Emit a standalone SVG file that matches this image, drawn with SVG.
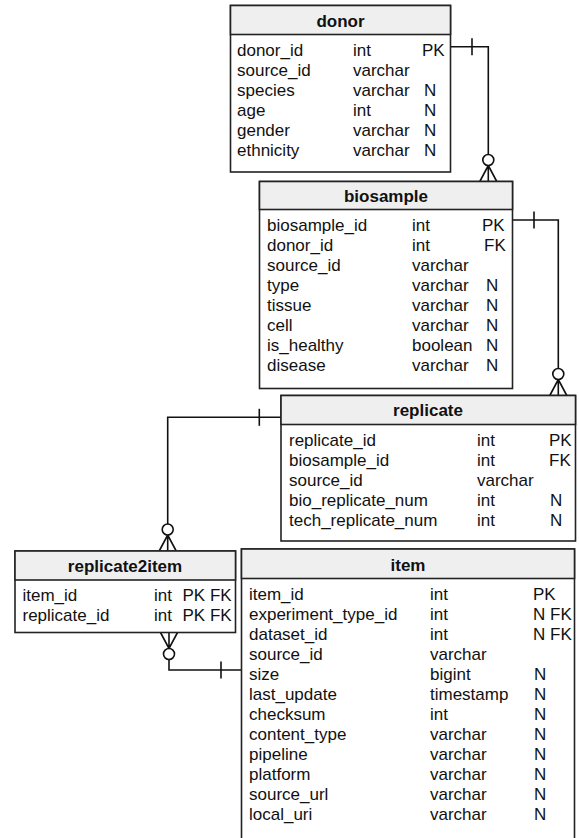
<svg xmlns="http://www.w3.org/2000/svg" xmlns:xlink="http://www.w3.org/1999/xlink" width="579" height="838" viewBox="0 0 579 838">
  <style>
    .box { fill: #ffffff; stroke: #222222; stroke-width: 1.6; }
    .hdr { fill: #efefef; stroke: #222222; stroke-width: 1.6; }
    .t { font-family: "Liberation Sans", Arial, Helvetica, sans-serif; font-size: 17px; fill: #111111; }
    .h { font-weight: bold; text-anchor: middle; }
    .ln { fill: none; stroke: #111111; stroke-width: 1.6; }
    .dot { fill: #ffffff; stroke: #111111; stroke-width: 1.6; }
  </style>
  <defs>
    <!-- zero-or-many end: origin sits on the entity edge, foot points up (away from the entity) -->
    <g id="many">
      <path class="ln" d="M -8.5 0 L 0 -16 L 8.5 0 M 0 0 L 0 -16"/>
      <circle class="dot" cx="0" cy="-21.5" r="5.5"/>
    </g>
    <!-- exactly-one bar -->
    <line id="one" class="ln" x1="0" y1="-8.5" x2="0" y2="8.5"/>
  </defs>

  <g id="connectors">
    <!-- donor.donor_id -> biosample.donor_id -->
    <path class="ln" d="M 450.7 46.7 H 488.3 V 160"/>
    <use xlink:href="#one" href="#one" transform="translate(472,46.7)"/>
    <use xlink:href="#many" href="#many" transform="translate(488.3,181.5)"/>

    <!-- biosample.biosample_id -> replicate.biosample_id -->
    <path class="ln" d="M 512.5 220 H 558.3 V 374"/>
    <use xlink:href="#one" href="#one" transform="translate(534,220)"/>
    <use xlink:href="#many" href="#many" transform="translate(558.3,395.5)"/>

    <!-- replicate.replicate_id -> replicate2item.replicate_id -->
    <path class="ln" d="M 281 417.3 H 167.7 V 530"/>
    <use xlink:href="#one" href="#one" transform="translate(259.3,417.3)"/>
    <use xlink:href="#many" href="#many" transform="translate(167.7,551)"/>

    <!-- item.item_id -> replicate2item.item_id -->
    <path class="ln" d="M 241.5 670 H 169 V 654"/>
    <use xlink:href="#one" href="#one" transform="translate(221,670)"/>
    <use xlink:href="#many" href="#many" transform="translate(169,632.5) rotate(180)"/>
  </g>

  <g id="donor">
    <rect class="box" x="230.5" y="5.5" width="220" height="166.5"/>
    <rect class="hdr" x="230.5" y="5.5" width="220" height="29"/>
    <text class="t h" x="340.5" y="27">donor</text>
    <g class="t">
      <text x="237" y="56">donor_id</text><text x="353" y="56">int</text><text x="422" y="56">PK</text>
      <text x="237" y="76">source_id</text><text x="353" y="76">varchar</text>
      <text x="237" y="96">species</text><text x="353" y="96">varchar</text><text x="424" y="96">N</text>
      <text x="237" y="116">age</text><text x="353" y="116">int</text><text x="424" y="116">N</text>
      <text x="237" y="136">gender</text><text x="353" y="136">varchar</text><text x="424" y="136">N</text>
      <text x="237" y="156">ethnicity</text><text x="353" y="156">varchar</text><text x="424" y="156">N</text>
    </g>
  </g>

  <g id="biosample">
    <rect class="box" x="259.5" y="181.5" width="253" height="207"/>
    <rect class="hdr" x="259.5" y="181.5" width="253" height="28"/>
    <text class="t h" x="386" y="202">biosample</text>
    <g class="t">
      <text x="267" y="231">biosample_id</text><text x="412" y="231">int</text><text x="482" y="231">PK</text>
      <text x="267" y="251">donor_id</text><text x="412" y="251">int</text><text x="484" y="251">FK</text>
      <text x="267" y="271">source_id</text><text x="412" y="271">varchar</text>
      <text x="267" y="291">type</text><text x="412" y="291">varchar</text><text x="486" y="291">N</text>
      <text x="267" y="311">tissue</text><text x="412" y="311">varchar</text><text x="486" y="311">N</text>
      <text x="267" y="331">cell</text><text x="412" y="331">varchar</text><text x="486" y="331">N</text>
      <text x="267" y="351">is_healthy</text><text x="412" y="351">boolean</text><text x="486" y="351">N</text>
      <text x="267" y="371">disease</text><text x="412" y="371">varchar</text><text x="486" y="371">N</text>
    </g>
  </g>

  <g id="replicate">
    <rect class="box" x="281" y="395.5" width="294.5" height="145.5"/>
    <rect class="hdr" x="281" y="395.5" width="294.5" height="29"/>
    <text class="t h" x="428" y="416">replicate</text>
    <g class="t">
      <text x="289" y="446">replicate_id</text><text x="477" y="446">int</text><text x="549" y="446">PK</text>
      <text x="289" y="466">biosample_id</text><text x="477" y="466">int</text><text x="549" y="466">FK</text>
      <text x="289" y="486">source_id</text><text x="477" y="486">varchar</text>
      <text x="289" y="506">bio_replicate_num</text><text x="477" y="506">int</text><text x="550" y="506">N</text>
      <text x="289" y="526">tech_replicate_num</text><text x="477" y="526">int</text><text x="550" y="526">N</text>
    </g>
  </g>

  <g id="replicate2item">
    <rect class="box" x="15" y="551" width="220.5" height="81.5"/>
    <rect class="hdr" x="15" y="551" width="220.5" height="29"/>
    <text class="t h" x="125" y="571.5">replicate2item</text>
    <g class="t">
      <text x="22.5" y="601">item_id</text><text x="154" y="601">int</text><text x="182.5" y="601">PK FK</text>
      <text x="22.5" y="621">replicate_id</text><text x="154" y="621">int</text><text x="182.5" y="621">PK FK</text>
    </g>
  </g>

  <g id="item">
    <rect class="box" x="241.5" y="549" width="333" height="300"/>
    <rect class="hdr" x="241.5" y="549" width="333" height="29.5"/>
    <text class="t h" x="408" y="570.5">item</text>
    <g class="t">
      <text x="249" y="600">item_id</text><text x="430" y="600">int</text><text x="533" y="600">PK</text>
      <text x="249" y="620">experiment_type_id</text><text x="430" y="620">int</text><text x="533" y="620">N FK</text>
      <text x="249" y="640">dataset_id</text><text x="430" y="640">int</text><text x="533" y="640">N FK</text>
      <text x="249" y="660">source_id</text><text x="430" y="660">varchar</text>
      <text x="249" y="680">size</text><text x="430" y="680">bigint</text><text x="534" y="680">N</text>
      <text x="249" y="700">last_update</text><text x="430" y="700">timestamp</text><text x="534" y="700">N</text>
      <text x="249" y="720">checksum</text><text x="430" y="720">int</text><text x="534" y="720">N</text>
      <text x="249" y="740">content_type</text><text x="430" y="740">varchar</text><text x="534" y="740">N</text>
      <text x="249" y="760">pipeline</text><text x="430" y="760">varchar</text><text x="534" y="760">N</text>
      <text x="249" y="780">platform</text><text x="430" y="780">varchar</text><text x="534" y="780">N</text>
      <text x="249" y="800">source_url</text><text x="430" y="800">varchar</text><text x="534" y="800">N</text>
      <text x="249" y="820">local_uri</text><text x="430" y="820">varchar</text><text x="534" y="820">N</text>
    </g>
  </g>
</svg>
